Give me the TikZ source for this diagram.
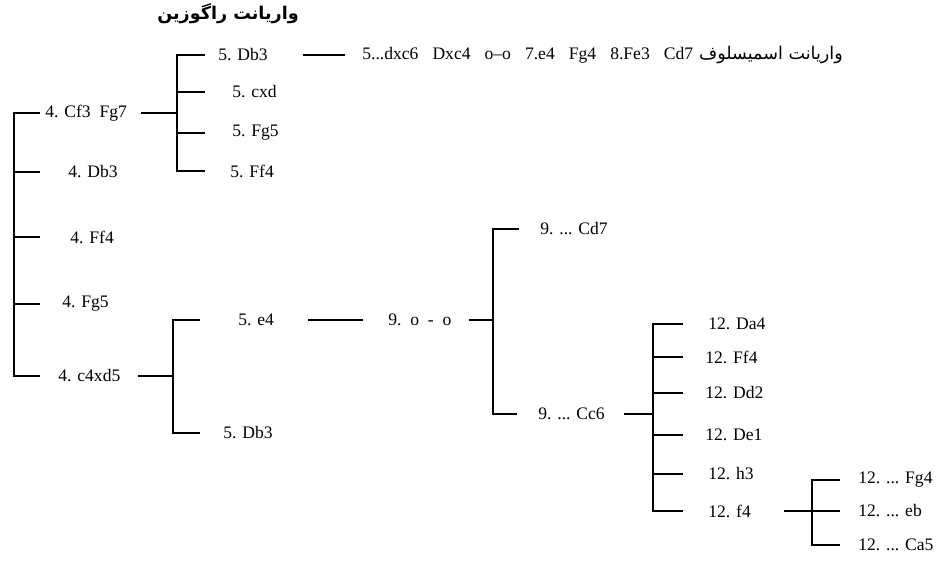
\documentclass[tikz,border=0pt]{standalone}
\usepackage{fontspec}
\setmainfont{Liberation Serif}
\newfontfamily\arabicfont[Script=Arabic]{DejaVu Sans}
\TeXXeTstate=1
\usetikzlibrary{positioning}

\begin{document}
\begin{tikzpicture}[x=0.02cm, y=-0.02cm,
    mv/.style={anchor=west, inner sep=0pt, font=\fontsize{10}{12}\selectfont},
    fa/.style={anchor=west, inner sep=0pt, font=\arabicfont\fontsize{10}{12}\selectfont},
    br/.style={line width=1.3pt}
]
\fill[white] (0,0) rectangle (942,563);

\node[fa, anchor=center, font=\arabicfont\bfseries\fontsize{10}{12}\selectfont] (ttl) at (228,14) {\beginR واریانت راگوزین\endR};

% 4th move
\node[mv] (n4cf) at (45,113) {4. Cf3\ \ Fg7};
\node[mv] (n4db) at (68,172) {4. Db3};
\node[mv] (n4ff) at (70,237) {4. Ff4};
\node[mv] (n4fg) at (62,304) {4. Fg5};
\node[mv] (n4cx) at (58,376) {4. c4xd5};

\coordinate (a1) at (14,113);
\coordinate (a2) at (14,172);
\coordinate (a3) at (14,237);
\coordinate (a4) at (14,304);
\coordinate (a5) at (14,376);

\draw[br, shorten <=2.8pt, shorten >=10.2pt] (n4cf) -- (a1) -- (a5) -- (n4cx);
\draw[br, shorten >=15.9pt] (a2) -- (n4db);
\draw[br, shorten >=17pt] (a3) -- (n4ff);
\draw[br, shorten >=12.5pt] (a4) -- (n4fg);

% 5th move after Cf3 Fg7
\node[mv] (n5db) at (218,55) {5. Db3};
\node[mv] (n5cx) at (232,92) {5. cxd};
\node[mv] (n5fg) at (232,133) {5. Fg5};
\node[mv] (n5ff) at (230,171) {5. Ff4};

\coordinate (b1) at (177,55);
\coordinate (b2) at (177,92);
\coordinate (b3) at (177,133);
\coordinate (b4) at (177,171);
\coordinate (bm) at (177,113);

\draw[br, shorten <=7.4pt, shorten >=14.2pt] (n5db) -- (b1) -- (b4) -- (n5ff);
\draw[br, shorten >=15.3pt] (b2) -- (n5cx);
\draw[br, shorten >=15.3pt] (b3) -- (n5fg);
\draw[br, shorten <=8pt] (n4cf) -- (bm);

% Smyslov line
\node[mv] (nsm) at (362,55) {5...dxc6\hskip.8em Dxc4\hskip.8em o–o\hskip.8em 7.e4\hskip.8em Fg4\hskip.8em 8.Fe3\hskip.8em Cd7};
\node[fa, right=3pt of nsm] (nsmy) {\beginR واریانت اسمیسلوف\endR};
\draw[br, shorten <=20pt, shorten >=9.6pt] (n5db) -- (nsm);

% 5th move after c4xd5
\node[mv] (n5e4) at (238,320) {5. e4};
\node[mv] (n5dc) at (223,433) {5. Db3};

\coordinate (c1) at (173,320);
\coordinate (c2) at (173,433);
\coordinate (cm) at (173,376);

\draw[br, shorten <=21.5pt, shorten >=13pt] (n5e4) -- (c1) -- (c2) -- (n5dc);
\draw[br, shorten <=10pt] (n4cx) -- (cm);

% 9th move
\node[mv] (n9oo) at (388,320) {9.\ \ o\ \ -\ \ o};
\draw[br, shorten <=19pt, shorten >=14.2pt] (n5e4) -- (n9oo);

\node[mv] (n9cd) at (540,229) {9. ... Cd7};
\node[mv] (n9cc) at (538,414) {9. ... Cc6};

\coordinate (d1) at (493,229);
\coordinate (d2) at (493,414);
\coordinate (dm) at (493,320);

\draw[br, shorten <=11.9pt, shorten >=11.9pt] (n9cd) -- (d1) -- (d2) -- (n9cc);
\draw[br, shorten <=9.6pt] (n9oo) -- (dm);

% 12th move
\node[mv] (n12da) at (708,324) {12. Da4};
\node[mv] (n12ff) at (705,357) {12. Ff4};
\node[mv] (n12dd) at (705,393) {12. Dd2};
\node[mv] (n12de) at (705,435) {12. De1};
\node[mv] (n12h) at (708,474) {12. h3};
\node[mv] (n12f) at (708,511) {12. f4};

\coordinate (e1) at (653,324);
\coordinate (e2) at (653,357);
\coordinate (e3) at (653,393);
\coordinate (e4) at (653,435);
\coordinate (e5) at (653,474);
\coordinate (e6) at (653,511);
\coordinate (em) at (653,414);

\draw[br, shorten <=14.2pt, shorten >=14.2pt] (n12da) -- (e1) -- (e6) -- (n12f);
\draw[br, shorten >=12.5pt] (e2) -- (n12ff);
\draw[br, shorten >=12.5pt] (e3) -- (n12dd);
\draw[br, shorten >=12.5pt] (e4) -- (n12de);
\draw[br, shorten >=14.2pt] (e5) -- (n12h);
\draw[br, shorten <=10.5pt] (n9cc) -- (em);

% black replies
\node[mv] (n12fg) at (858,480) {12. ... Fg4};
\node[mv] (n12eb) at (858,511) {12. ... eb};
\node[mv] (n12ca) at (858,545) {12. ... Ca5};

\coordinate (f1) at (812,480);
\coordinate (f2) at (812,545);
\coordinate (fm) at (812,511);

\draw[br, shorten <=10.2pt, shorten >=10.2pt] (n12fg) -- (f1) -- (f2) -- (n12ca);
\draw[br, shorten <=18.5pt] (n12f) -- (fm);
\draw[br, shorten >=10.2pt] (fm) -- (n12eb);

\end{tikzpicture}
\end{document}
